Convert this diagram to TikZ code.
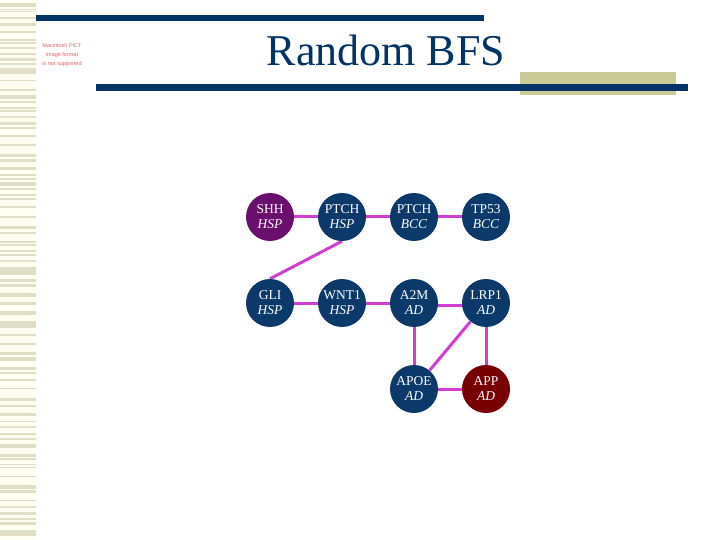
\documentclass[tikz,border=0pt]{standalone}
\usepackage{fontspec}
\setmainfont{Liberation Serif}
\newfontfamily\picfont{Liberation Sans}
\usetikzlibrary{backgrounds}
\definecolor{navy}{HTML}{0B3A6A}
\definecolor{barnavy}{HTML}{003366}
\definecolor{stripe}{HTML}{E0DFC6}
\definecolor{cream}{HTML}{FFFFF2}
\definecolor{khaki}{HTML}{CCCC99}
\definecolor{edgemag}{HTML}{D23CD2}
\definecolor{purp}{HTML}{6A0F6E}
\definecolor{darkred}{HTML}{780000}
\definecolor{pict}{HTML}{E06464}
\tikzset{
  gene/.style={circle, fill=navy, minimum size=48pt, inner sep=0pt, text=white,
    align=center, font=\fontsize{13.5}{15}\selectfont},
  link/.style={draw=edgemag, line width=3pt},
}
\begin{document}
\begin{tikzpicture}[x=1pt,y=-1pt]
\useasboundingbox (0,0) rectangle (720,540);
\begin{scope}[on background layer]
\fill[white] (0,0) rectangle (720,540);
\end{scope}
% left stripe band
\fill[cream] (0,0) rectangle (36,540);
\foreach \a/\b in {3/7,9/10,11/12,17/19,23/26,31/33,39/41,42/44,47/49,53/55,58/61,63/65,68/74,80/81,89/91,95/99,101/103,107/109,110/112,116/118,122/125,127/129,
135/137,144/146,154/157,159/162,167/170,174/176,178/180,182/186,188/190,194/196,198/200,206/208,216/218,226/229,232/234,241/243,244/246,250/252,254/256,260/262,267/270,
270/275,279/282,284/287,293/297,302/305,311/313,313.6/315,321/328,334/336,343/345,352/355,357/361,367/370,372/374,379/381,388/389,398/401,
405/407,413/416,421/422,426/428,433/435,438/440,444/448,454/457,458/460,464/465,467/468,476/477,485/489,490/493,500/501,506/508,512/515,518/520,522/525,530/536}
  \fill[stripe] (0,\a-0.3) rectangle (36,\b+0.3);
% header bars
\fill[barnavy] (36,15) rectangle (484,21.5);
\fill[khaki] (520,72) rectangle (676,95);
\fill[barnavy] (96,84.5) rectangle (688,91);
\node[text=barnavy, font=\fontsize{44}{48}\selectfont, anchor=base] (title) at (386,66) {Random BFS};
\node[text=pict, font=\picfont\fontsize{5.5}{9}\selectfont, align=center] (pictmsg) at (62,55)
  {Macintosh PICT\\image format\\is not supported};
% nodes
\node[gene, fill=purp] (shh) at (270,217) {SHH\\\textit{HSP}};
\node[gene] (ptchh) at (342,217) {PTCH\\\textit{HSP}};
\node[gene] (ptchb) at (414,217) {PTCH\\\textit{BCC}};
\node[gene] (tp53) at (486,217) {TP53\\\textit{BCC}};
\node[gene] (gli) at (270,303) {GLI\\\textit{HSP}};
\node[gene] (wnt1) at (342,303) {WNT1\\\textit{HSP}};
\node[gene] (a2m) at (414,303) {A2M\\\textit{AD}};
\node[gene] (lrp1) at (486,303) {LRP1\\\textit{AD}};
\node[gene] (apoe) at (414,389) {APOE\\\textit{AD}};
\node[gene, fill=darkred] (app) at (486,389) {APP\\\textit{AD}};
% connectors
\begin{scope}[on background layer]
\draw[link] (shh) -- (ptchh);
\draw[link] (ptchh) -- (ptchb);
\draw[link] (ptchb) -- (tp53);
\draw[link] (ptchh.south) -- (gli.north);
\draw[link] (gli) -- (wnt1);
\draw[link] (wnt1) -- (a2m);
\draw[link] ([yshift=-2pt]a2m.center) -- ([yshift=-2pt]lrp1.center);
\draw[link] (a2m) -- (apoe);
\draw[link] (lrp1) -- (apoe);
\draw[link] (lrp1) -- (app);
\draw[link] (apoe) -- (app);
\end{scope}
\end{tikzpicture}
\end{document}
